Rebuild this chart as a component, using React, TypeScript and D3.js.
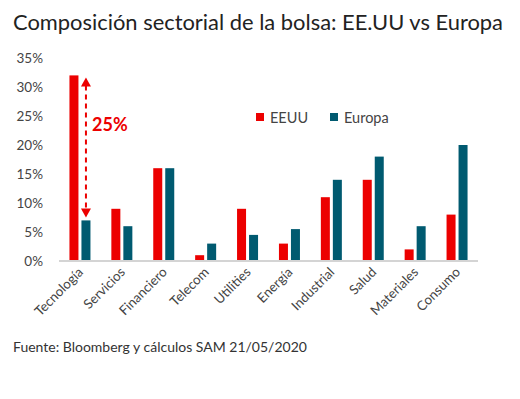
import React from 'react';
import * as d3 from 'd3';

const categories = ['Tecnología', 'Servicios', 'Financiero', 'Telecom', 'Utilities', 'Energía', 'Industrial', 'Salud', 'Materiales', 'Consumo'];
const eeuu = [32, 9, 16, 1, 9, 3, 11, 14, 2, 8];
const europa = [7, 6, 16, 3, 4.5, 5.5, 14, 18, 6, 20];
const yTicks = [0, 5, 10, 15, 20, 25, 30, 35];
const seriesNames = ['EEUU', 'Europa'];
const colors = ['#ec0000', '#005a70'];
const gapLabel = '25%';

const W = 520;
const H = 399;
const left = 59;
const right = 478;
const top = 58;
const bottom = 261;

function App() {
    const x = d3.scaleBand<string>().domain(categories).range([left, right]);
    const y = d3.scaleLinear().domain([0, 35]).range([bottom, top]);
    const barW = 9;
    const gap = 3;

    const techX = (x(categories[0]) as number) + x.bandwidth() / 2 + gap / 2 + barW / 2;
    const arrowTop = y(eeuu[0]) + 2;
    const arrowBot = y(europa[0]) - 3;

    return (
        <svg width={W} height={H} style={{ position: 'absolute', left: 0, top: 0, background: '#fff' }}
            fontFamily="Lato, 'Open Sans', sans-serif">
            <text x={13} y={30} fontSize={21.9} fill="#222">Composición sectorial de la bolsa: EE.UU vs Europa</text>

            {yTicks.map((t) => (
                <text key={t} x={43} y={y(t) + 5} fontSize={13.5} fill="#444" textAnchor="end">{t}%</text>
            ))}

            {categories.map((c, i) => {
                const cx = (x(c) as number) + x.bandwidth() / 2;
                return (
                    <g key={c}>
                        <rect x={cx - gap / 2 - barW} y={y(eeuu[i])} width={barW} height={bottom - y(eeuu[i])} fill={colors[0]} />
                        <rect x={cx + gap / 2} y={y(europa[i])} width={barW} height={bottom - y(europa[i])} fill={colors[1]} />
                        <text transform={`translate(${cx + 4},${bottom + 12}) rotate(-45)`} fontSize={13.3} fill="#444" textAnchor="end">{c}</text>
                    </g>
                );
            })}

            <line x1={left} x2={right} y1={bottom} y2={bottom} stroke="#d4d4d4" strokeWidth={2} />

            <line x1={techX} x2={techX} y1={arrowTop + 8} y2={arrowBot - 8} stroke={colors[0]} strokeWidth={2} strokeDasharray="5,4" />
            <path d={`M${techX - 5},${arrowTop + 9} L${techX},${arrowTop} L${techX + 5},${arrowTop + 9} Z`} fill={colors[0]} />
            <path d={`M${techX - 5},${arrowBot - 9} L${techX},${arrowBot} L${techX + 5},${arrowBot - 9} Z`} fill={colors[0]} />
            <text x={92} y={131} fontSize={18} fill={colors[0]} fontWeight={700}>{gapLabel}</text>

            {seriesNames.map((s, i) => (
                <g key={s} transform={`translate(${i === 0 ? 256 : 330},113)`}>
                    <rect x={0} y={0} width={8} height={8} fill={colors[i]} />
                    <text x={14} y={10} fontSize={14.5} fill="#444">{s}</text>
                </g>
            ))}

            <text x={13} y={352} fontSize={14} fill="#333">Fuente: Bloomberg  y cálculos SAM 21/05/2020</text>
        </svg>
    );
}

export default App;
